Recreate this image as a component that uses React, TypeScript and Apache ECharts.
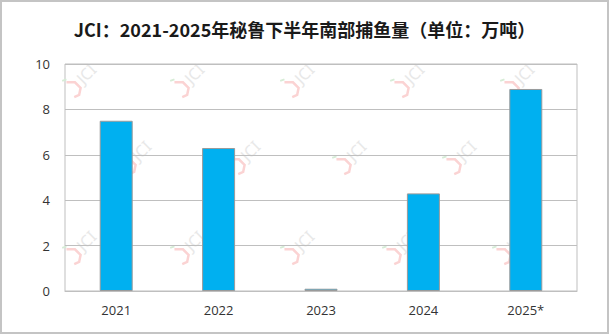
import React, { useEffect, useRef } from "react";
import * as echarts from "echarts";

const categories = ["2021", "2022", "2023", "2024", "2025*"];
const catchValues = [7.5, 6.3, 0.1, 4.3, 8.9];
const yTicks = [0, 2, 4, 6, 8, 10];
const titleText = "JCI：2021-2025年秘鲁下半年南部捕鱼量（单位：万吨）";

const wmRows: number[][] = [
  [82, 78], [190, 78], [300, 78], [410, 78], [520, 78],
  [137, 155], [246, 155], [352, 155], [462, 155],
  [82, 245], [190, 245], [300, 245], [402, 245], [512, 245],
];

function watermark(cx: number, cy: number) {
  return {
    type: "group",
    x: cx,
    y: cy,
    rotation: Math.PI / 4,
    silent: true,
    z: 0,
    children: [
      {
        type: "polyline",
        shape: { points: [[-14, -8], [-8, -2], [-8, 6], [-14, 10], [-19, 8]] },
        style: { stroke: "#fbd3d3", lineWidth: 2.5, fill: null },
      },
      {
        type: "line",
        shape: { x1: -16, y1: -12, x2: -12, y2: -10 },
        style: { stroke: "#d6ecd6", lineWidth: 2 },
      },
      {
        type: "text",
        x: -4,
        y: 0,
        style: {
          text: "JCI",
          fill: "#e8e8e8",
          font: "16px 'Noto Sans'",
          textVerticalAlign: "middle",
        },
      },
    ],
  };
}

export default function App() {
  const ref = useRef<HTMLDivElement>(null);
  useEffect(() => {
    document.body.style.margin = "0";
    const chart = echarts.init(ref.current!, null, { renderer: "svg" });
    chart.setOption({
      animation: false,
      backgroundColor: "#ffffff",
      title: {
        text: titleText,
        left: "center",
        top: 15,
        textStyle: {
          fontFamily: "'Noto Sans CJK SC'",
          fontWeight: "bold",
          fontSize: 18,
          color: "#1a1a1a",
        },
      },
      grid: { left: 65, right: 32, top: 64, bottom: 43, show: true, borderColor: "#bfbfbf", borderWidth: 1 },
      xAxis: {
        type: "category",
        data: categories,
        axisLine: { lineStyle: { color: "#bfbfbf", width: 1 } },
        axisTick: { show: false },
        axisLabel: { color: "#333", fontSize: 13, fontFamily: "'Open Sans', 'Noto Sans'", margin: 12 },
      },
      yAxis: {
        type: "value",
        min: yTicks[0],
        max: yTicks[yTicks.length - 1],
        interval: 2,
        axisLine: { show: false },
        axisTick: { show: false },
        splitLine: { lineStyle: { color: "#bfbfbf", width: 1 } },
        axisLabel: { color: "#333", fontSize: 13, fontFamily: "'Open Sans', 'Noto Sans'", margin: 15 },
      },
      series: [
        {
          type: "bar",
          data: catchValues,
          barWidth: 33,
          z: 3,
          itemStyle: { color: "#00B0F0", borderColor: "#9a9a9a", borderWidth: 1 },
        },
      ],
      graphic: [
        {
          type: "rect",
          shape: { x: 1, y: 1, width: 607, height: 332 },
          style: { fill: null, stroke: "#c4c4c4", lineWidth: 2 },
          silent: true,
        },
        ...wmRows.map(([x, y]) => watermark(x, y)),
      ],
    });
    return () => chart.dispose();
  }, []);
  return <div ref={ref} style={{ width: 609, height: 334 }} />;
}
